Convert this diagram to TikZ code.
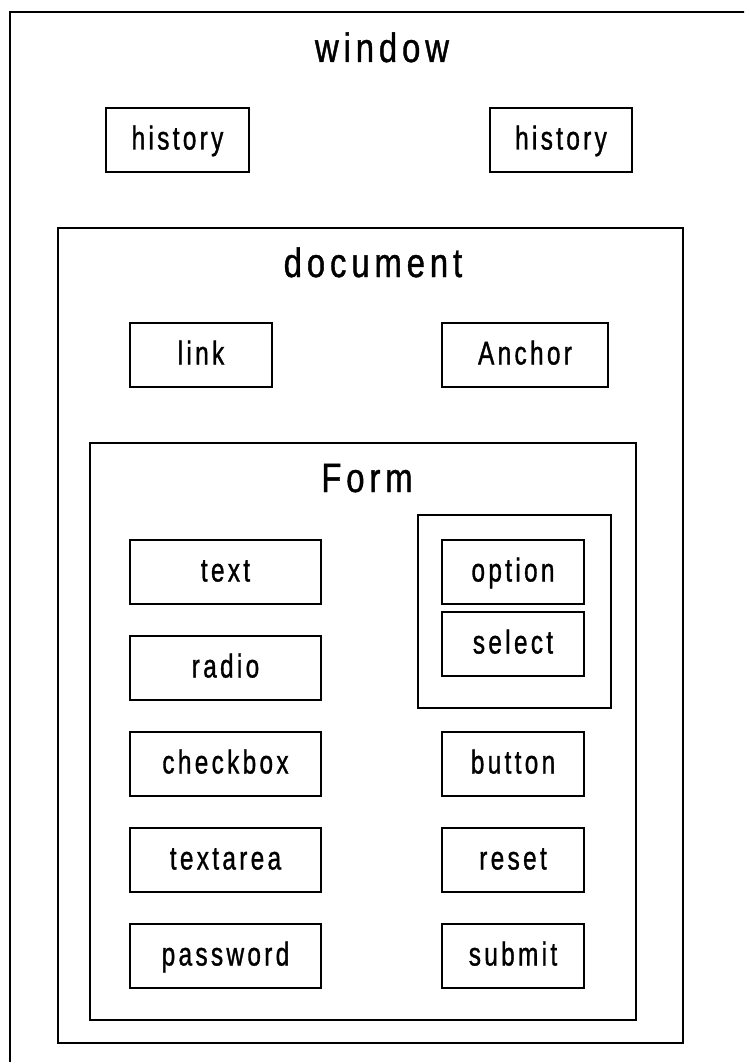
\documentclass[tikz,border=0pt]{standalone}
\usepackage{fontspec}
\setmainfont{Liberation Sans}[FakeStretch=0.74, LetterSpace=10, FakeBold=1]
\newfontfamily\headfont{Liberation Sans}[FakeStretch=0.8, LetterSpace=12, FakeBold=1]
\begin{document}
\begin{tikzpicture}[x=1pt, y=-1pt,
  frame/.style={draw=black, line width=1.6pt},
  item/.style={draw=black, line width=1.6pt, rectangle, inner sep=0pt,
    text height=24pt, text depth=5pt,
    font=\fontsize{33}{38}\selectfont},
  title/.style={anchor=base, inner sep=0pt, font=\headfont\fontsize{41}{46}\selectfont}]
  \useasboundingbox (0,0) rectangle (744,1062);
  \clip (0,0) rectangle (744,1062);

  % nested containers
  \draw[frame] (10,12) rectangle (770,1090);
  \draw[frame] (58,228) rectangle (683,1043);
  \draw[frame] (90,443) rectangle (636,1020);
  \draw[frame] (418,515) rectangle (611,708);

  % container titles
  \node[title] (tWindow) at (382,62) {window};
  \node[title] (tDocument) at (373,277) {document};
  \node[title] (tForm) at (367,492) {Form};

  % boxes: \itembox{name}{x1}{y1}{x2}{y2}{label}
  \newcommand{\itembox}[6]{%
    \node[item, minimum width={#4-#2}, minimum height={#5-#3}]
      (#1) at ({(#2+#4)/2},{(#3+#5)/2}) {#6};}

  \itembox{histL}{106}{108}{249}{172}{history}
  \itembox{histR}{490}{108}{632}{172}{history}
  \itembox{link}{130}{323}{272}{387}{link}
  \itembox{anchor}{442}{323}{608}{387}{Anchor}

  \itembox{text}{130}{540}{321}{604}{text}
  \itembox{radio}{130}{636}{321}{700}{radio}
  \itembox{checkbox}{130}{732}{321}{796}{checkbox}
  \itembox{textarea}{130}{828}{321}{892}{textarea}
  \itembox{password}{130}{924}{321}{988}{password}

  \itembox{option}{442}{540}{584}{604}{option}
  \itembox{select}{442}{612}{584}{676}{select}
  \itembox{button}{442}{732}{584}{796}{button}
  \itembox{reset}{442}{828}{584}{892}{reset}
  \itembox{submit}{442}{924}{584}{988}{submit}
\end{tikzpicture}
\end{document}
